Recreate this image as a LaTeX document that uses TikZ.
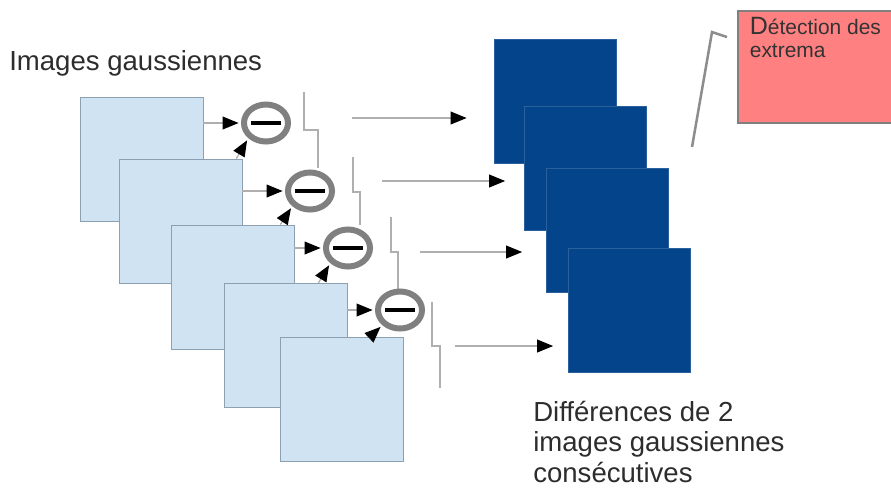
\documentclass[tikz,border=0pt]{standalone}
\usepackage{fontspec}
\setmainfont{Liberation Sans}
\usepackage{xcolor}
\usetikzlibrary{shapes.geometric, arrows.meta, calc}

\definecolor{gaussfill}{RGB}{207,227,242}
\definecolor{gaussline}{RGB}{140,160,178}
\definecolor{diffblue}{RGB}{4,68,138}
\definecolor{extremafill}{RGB}{255,128,128}
\definecolor{ringgray}{RGB}{128,128,128}
\definecolor{linkgray}{RGB}{175,175,175}
\definecolor{labelgray}{RGB}{45,45,45}

\begin{document}
\begin{tikzpicture}[
    x=0.025cm, y=-0.025cm,
    gauss/.style={draw=gaussline, fill=gaussfill, line width=0.6pt, minimum width=3.075cm, minimum height=3.1cm, inner sep=0},
    diff/.style={draw=diffblue!85!white, fill=diffblue, line width=0.5pt, minimum width=3.05cm, minimum height=3.1cm, inner sep=0},
    minus/.style={ellipse, draw=ringgray, line width=0.15cm, fill=white, minimum width=1.1cm, minimum height=0.925cm, inner sep=0},
    link/.style={draw=linkgray, line width=0.9pt},
    tip/.style={-{Triangle[length=0.4cm, width=0.32cm, color=black]}},
    feed/.style={link, tip, shorten >=0.06cm},
    caption/.style={font=\fontsize{19.6pt}{21.6pt}\selectfont, text=labelgray, inner sep=0, align=left},
    extrema/.style={draw=ringgray, fill=extremafill, line width=1.2pt, inner xsep=0.3cm, inner ysep=0, font=\fontsize{14.9pt}{16.4pt}\selectfont, text=black!80}
]
    \useasboundingbox (0,0) rectangle (891,489);

    \node[gauss] (s1) at (141.5,159) {};
    \node[gauss] (s2) at (180.5,221) {};
    \node[gauss] (s3) at (232.5,287) {};
    \node[gauss] (s4) at (285.5,345.5) {};
    \node[gauss] (s5) at (341.5,399) {};

    \node[diff] (d1) at (555,101) {};
    \node[diff] (d2) at (585.5,168) {};
    \node[diff] (d3) at (607.5,230) {};
    \node[diff] (d4) at (629.5,310) {};

    \coordinate (t1) at (304,92);
    \coordinate (t2) at (353,157);
    \coordinate (t3) at (391,217);
    \coordinate (t4) at (432,302);
    \draw[link] (t1) |- ++(14,38) -- ++(0,38);
    \draw[link] (t2) |- ++(7,35) -- ++(0,33);
    \draw[link] (t3) |- ++(7,35) -- ++(0,38);
    \draw[link] (t4) |- ++(8,44) -- ++(0,42);

    \node[minus] (c1) at (266,123) {\rule{0.75cm}{0.1cm}};
    \node[minus] (c2) at (310,191) {\rule{0.75cm}{0.1cm}};
    \node[minus] (c3) at (348,248) {\rule{0.75cm}{0.1cm}};
    \node[minus] (c4) at (400,310) {\rule{0.75cm}{0.1cm}};

    \draw[feed] (c1.west -| s1.east) -- (c1.west);
    \draw[feed] (c2.west -| s2.east) -- (c2.west);
    \draw[feed] (c3.west -| s3.east) -- (c3.west);
    \draw[feed] (c4.west -| s4.east) -- (c4.west);
    \draw[feed] ($(c1.south west |- s2.north)+(-12,0)$) -- (c1.south west);
    \draw[feed] ($(c2.south west |- s3.north)+(-12,0)$) -- (c2.south west);
    \draw[feed] ($(c3.south west |- s4.north)+(-12,0)$) -- (c3.south west);
    \draw[feed] ($(c4.south west |- s5.north)+(-12,0)$) -- (c4.south west);

    \coordinate (a1) at (352,118);
    \coordinate (a2) at (382,181);
    \coordinate (a3) at (420,252);
    \coordinate (a4) at (455,346);
    \draw[link, tip] (a1) -- ($(a1 -| d1.west)+(-27,0)$);
    \draw[link, tip] (a2) -- ($(a2 -| d2.west)+(-19,0)$);
    \draw[link, tip] (a3) -- ($(a3 -| d3.west)+(-24,0)$);
    \draw[link, tip] (a4) -- ($(a4 -| d4.west)+(-15,0)$);

    \node[extrema, anchor=north west] (detect) at (737,10)
        {\parbox[t][2.8cm][t]{3.9cm}{\rule{0pt}{0.6cm}{\fontsize{17.8pt}{17.8pt}\selectfont D}étection des\\extrema}};
    \coordinate (pin) at (692,147);
    \draw[draw=ringgray!90, line width=1.8pt] (pin) -- (712,32) -- (727,37);

    \node[caption, anchor=base west] (gausslabel) at (9,70) {Images gaussiennes};
    \node[caption, anchor=north west] (difflabel) at (533,401) {Différences de 2\\images gaussiennes\\consécutives};
\end{tikzpicture}
\end{document}
